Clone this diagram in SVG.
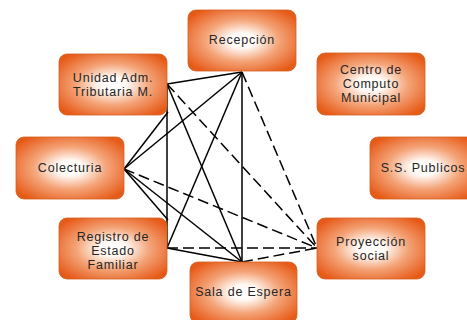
<svg xmlns="http://www.w3.org/2000/svg" width="467" height="320" viewBox="0 0 467 320">
  <defs>
    <radialGradient id="og" cx="50%" cy="50%" r="62%">
      <stop offset="0" stop-color="#ffffff"/>
      <stop offset="0.2" stop-color="#fffaf6"/>
      <stop offset="0.55" stop-color="#f4a478"/>
      <stop offset="1" stop-color="#e65a18"/>
    </radialGradient>
    <style>
      .box { fill: url(#og); stroke: #d4601f; stroke-width: 0.8; }
      .lbl { font-family: "Liberation Sans", Arial, sans-serif; font-size: 12.5px; letter-spacing: 0.8px; fill: #262626; text-anchor: middle; dominant-baseline: central; }
      .sol { stroke: #000; stroke-width: 1.5; fill: none; }
      .dsh { stroke: #000; stroke-width: 1.5; fill: none; stroke-dasharray: 11 5; }
    </style>
  </defs>
  <rect width="467" height="320" fill="#ffffff"/>
  <g id="connectors">
    <line class="sol" x1="167" y1="84" x2="242" y2="72"/>
    <line class="sol" x1="167" y1="84" x2="167" y2="248"/>
    <line class="sol" x1="167" y1="84" x2="242" y2="262"/>
    <line class="dsh" x1="167" y1="84" x2="317" y2="248"/>
    <line class="sol" x1="124" y1="169" x2="242" y2="72"/>
    <line class="sol" x1="124" y1="169" x2="168" y2="112"/>
    <line class="sol" x1="124" y1="169" x2="168" y2="220"/>
    <line class="sol" x1="124" y1="169" x2="242" y2="262"/>
    <line class="dsh" x1="124" y1="169" x2="317" y2="248"/>
    <line class="sol" x1="242" y1="72" x2="167" y2="248"/>
    <line class="sol" x1="242" y1="72" x2="242" y2="262"/>
    <line class="dsh" x1="242" y1="72" x2="317" y2="248"/>
    <line class="sol" x1="167" y1="248" x2="242" y2="262"/>
    <line class="dsh" x1="167" y1="248" x2="317" y2="248"/>
    <line class="dsh" x1="242" y1="262" x2="317" y2="248"/>
  </g>
  <g id="recepcion">
    <rect class="box" x="188" y="10" width="108" height="61" rx="8"/>
    <text class="lbl" x="242" y="40">Recepción</text>
  </g>
  <g id="unidad">
    <rect class="box" x="59" y="54" width="108" height="61" rx="8"/>
    <text class="lbl" x="113" y="78">Unidad Adm.</text>
    <text class="lbl" x="113" y="92">Tributaria M.</text>
  </g>
  <g id="centro">
    <rect class="box" x="317" y="53" width="108" height="62" rx="8"/>
    <text class="lbl" x="371" y="70">Centro de</text>
    <text class="lbl" x="371" y="84">Computo</text>
    <text class="lbl" x="371" y="98">Municipal</text>
  </g>
  <g id="colecturia">
    <rect class="box" x="16" y="137" width="108" height="62" rx="8"/>
    <text class="lbl" x="70" y="168">Colecturia</text>
  </g>
  <g id="ss-publicos">
    <rect class="box" x="370" y="137" width="108" height="62" rx="8"/>
    <text class="lbl" x="423" y="168">S.S. Publicos</text>
  </g>
  <g id="registro">
    <rect class="box" x="59" y="218" width="108" height="61" rx="8"/>
    <text class="lbl" x="113" y="236.5">Registro de</text>
    <text class="lbl" x="113" y="250.5">Estado</text>
    <text class="lbl" x="113" y="264.5">Familiar</text>
  </g>
  <g id="proyeccion">
    <rect class="box" x="317" y="218" width="108" height="61" rx="8"/>
    <text class="lbl" x="371" y="242">Proyección</text>
    <text class="lbl" x="371" y="256">social</text>
  </g>
  <g id="sala">
    <rect class="box" x="190" y="262" width="107" height="61" rx="8"/>
    <text class="lbl" x="243.5" y="292">Sala de Espera</text>
  </g>
</svg>
